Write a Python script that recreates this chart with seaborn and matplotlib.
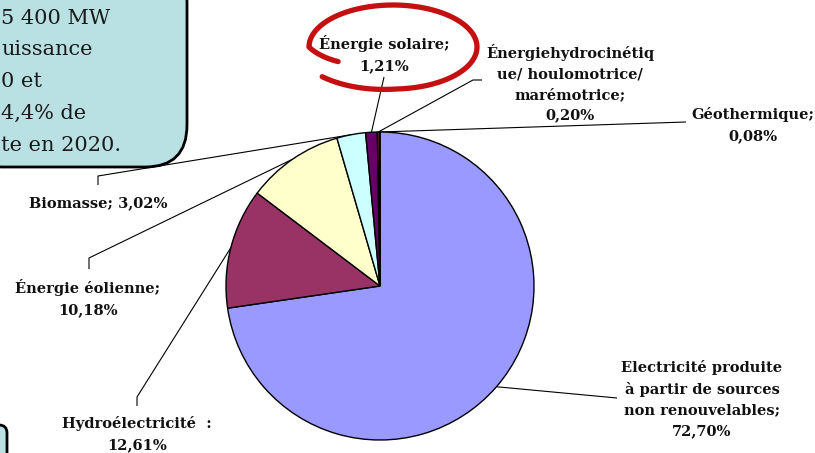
import numpy as np
import matplotlib
matplotlib.use("Agg")
import matplotlib.pyplot as plt
import seaborn as sns
from matplotlib.patches import FancyBboxPatch

# Electricity generation by source (shares in %)
sources = [
    "Electricité produite\nà partir de sources\nnon renouvelables;",
    "Hydroélectricité  :",
    "Énergie éolienne;",
    "Biomasse;",
    "Énergie solaire;",
    "Énergiehydrocinétiq\nue/ houlomotrice/\nmarémotrice;",
    "Géothermique;",
]
shares = [72.70, 12.61, 10.18, 3.02, 1.21, 0.20, 0.08]
palette = ["#9999FF", "#993366", "#FFFFCC", "#CCFFFF", "#660066", "#FF8080", "#0066CC"]

# Callout text (box runs off the left edge of the figure)
note_lines = ["5 400 MW", "uissance", "0 et", "4,4% de", "te en 2020."]

sns.set_theme(style="white")
plt.rcParams["font.family"] = ["DejaVu Serif"]

W, H = 815, 453
fig = plt.figure(figsize=(W / 100, H / 100), dpi=100)
ax = fig.add_axes([0, 0, 1, 1])

cx, cy, r = 380, 286, 154
wedges, _ = ax.pie(
    shares, colors=palette, startangle=-90, counterclock=True,
    center=(cx, cy), radius=r, frame=True,
    wedgeprops=dict(edgecolor="black", linewidth=1.0),
)
ax.set_xlim(0, W)
ax.set_ylim(H, 0)
ax.set_aspect("equal")
ax.axis("off")


def fmt(v):
    return f"{v:.2f}".replace(".", ",") + "%"


# label block centre and leader-line path (label side first)
layout = [
    dict(xy=(702, 399), path=[(617, 398)]),
    dict(xy=(137, 434), path=[(137, 406), (137, 397)]),
    dict(xy=(88, 298), path=[(89, 269), (89, 258)]),
    dict(xy=(98, 203), path=[(98, 185), (98, 176)]),
    dict(xy=(384, 54), path=[(384, 77)]),
    dict(xy=(570, 83), path=[(482, 80), (473, 80)]),
    dict(xy=(753, 125), path=[(686, 122)]),
]

for name, val, w, lay in zip(sources, shares, wedges, layout):
    sep = " " if name.startswith("Biomasse") else "\n"
    ax.text(*lay["xy"], name + sep + fmt(val), ha="center", va="center",
            fontsize=10.5, fontweight="bold", color="#111111",
            linespacing=1.6, zorder=5)
    mid = np.radians((w.theta1 + w.theta2) / 2)
    end = (cx + r * np.cos(mid), cy + r * np.sin(mid))
    pts = lay["path"] + [end]
    ax.plot([p[0] for p in pts], [p[1] for p in pts], color="black",
            lw=0.8, zorder=0.5, solid_capstyle="butt")

# Teal callout box at top-left
box = FancyBboxPatch((-40, -40), 227, 207,
                     boxstyle="round,pad=0,rounding_size=42",
                     facecolor="#B9E0E3", edgecolor="black", lw=2, zorder=3)
ax.add_patch(box)
for i, line in enumerate(note_lines):
    ax.text(1, 18 + i * 31.8, line, ha="left", va="center", fontsize=15,
            color="#1a1a1a", zorder=4)

# small box at bottom-left edge
small = FancyBboxPatch((-30, 425), 37, 60,
                       boxstyle="round,pad=0,rounding_size=8",
                       facecolor="#B9E0E3", edgecolor="black", lw=2, zorder=3)
ax.add_patch(small)

# Hand-drawn red ring around the solar label
t = np.linspace(0, 1, 400)
th = np.radians(np.linspace(208, -140, 400))
s = 0.74 + 0.26 * np.clip(t / 0.08, 0, 1) + 0.1 * np.clip((t - 0.85) / 0.15, 0, 1)
ax.plot(393 + 84 * s * np.cos(th), 47 - 42 * s * np.sin(th),
        color="#C41010", lw=3.8, solid_capstyle="round", zorder=4)

fig.savefig("out.png", dpi=100)
